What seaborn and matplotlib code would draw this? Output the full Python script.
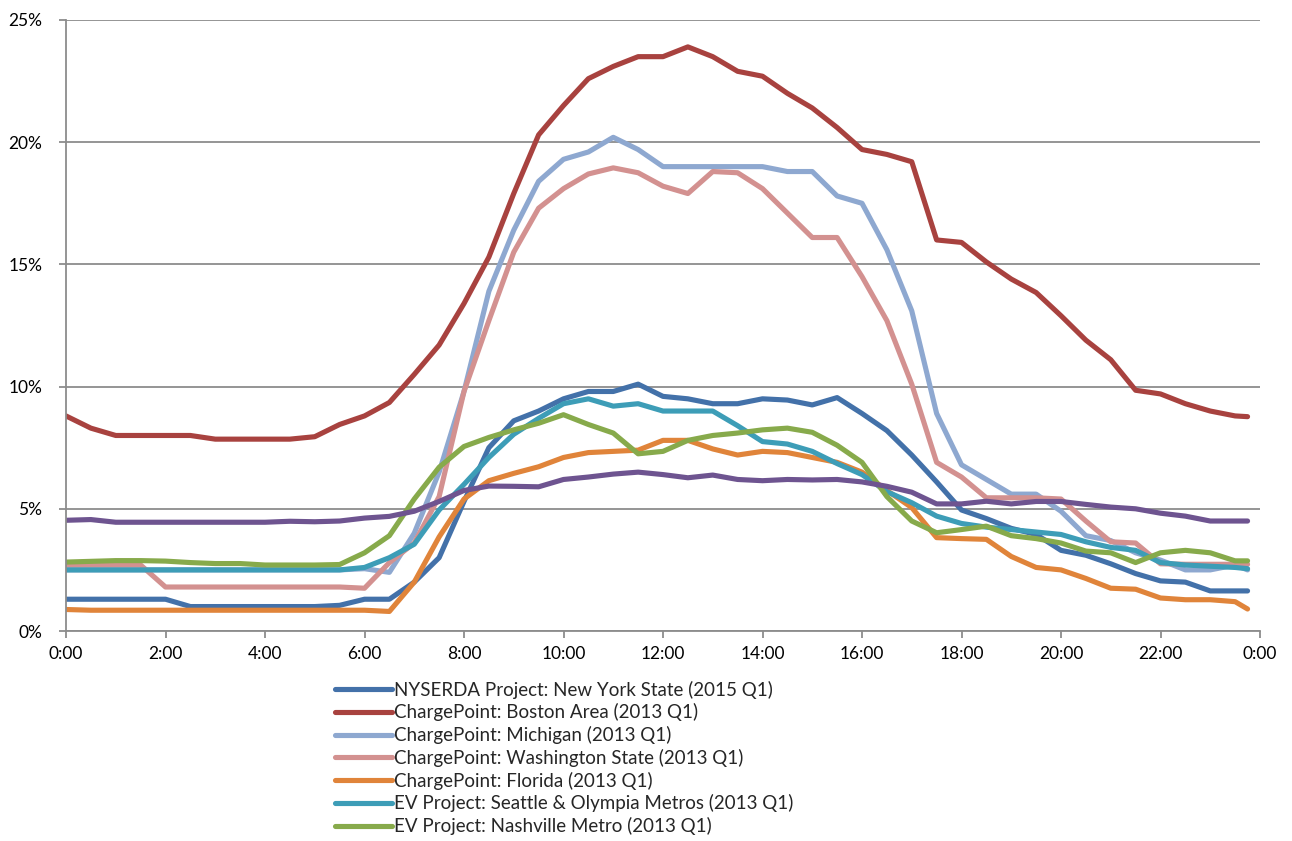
import matplotlib
matplotlib.use("Agg")
import matplotlib.pyplot as plt
import seaborn as sns
import pandas as pd
import numpy as np
from matplotlib.ticker import FuncFormatter, MultipleLocator

# ---- data (hours of day, percent of stations in use) ----
hours = [i * 0.5 for i in range(48)] + [23.75]

nyserda = [1.3, 1.3, 1.3, 1.3, 1.3, 1.0, 1.0, 1.0, 1.0, 1.0, 1.0, 1.05,
           1.3, 1.3, 2.0, 3.0, 5.3, 7.5, 8.6, 9.0, 9.5, 9.8, 9.8, 10.1,
           9.6, 9.5, 9.3, 9.3, 9.5, 9.45, 9.25, 9.55, 8.9, 8.2, 7.2, 6.1,
           4.95, 4.6, 4.2, 3.95, 3.3, 3.1, 2.75, 2.35, 2.05, 2.0, 1.64, 1.64, 1.64]
boston = [8.8, 8.3, 8.0, 8.0, 8.0, 8.0, 7.85, 7.85, 7.85, 7.85, 7.95, 8.45,
          8.8, 9.35, 10.5, 11.7, 13.4, 15.3, 17.9, 20.3, 21.5, 22.6, 23.1, 23.5,
          23.5, 23.9, 23.5, 22.9, 22.7, 22.0, 21.4, 20.6, 19.7, 19.5, 19.2, 16.0,
          15.9, 15.1, 14.4, 13.85, 12.9, 11.9, 11.1, 9.85, 9.7, 9.3, 9.0, 8.8, 8.77]
michigan = [2.5, 2.5, 2.5, 2.5, 2.5, 2.5, 2.5, 2.5, 2.5, 2.5, 2.5, 2.5,
            2.55, 2.4, 4.0, 6.5, 9.8, 13.9, 16.4, 18.4, 19.3, 19.6, 20.2, 19.7,
            19.0, 19.0, 19.0, 19.0, 19.0, 18.8, 18.8, 17.8, 17.5, 15.6, 13.1, 8.9,
            6.8, 6.2, 5.6, 5.6, 4.9, 3.9, 3.7, 3.2, 2.9, 2.5, 2.5, 2.7, 2.5]
washington = [2.7, 2.7, 2.7, 2.7, 1.8, 1.8, 1.8, 1.8, 1.8, 1.8, 1.8, 1.8,
              1.75, 2.8, 3.6, 5.5, 9.8, 12.7, 15.5, 17.3, 18.1, 18.7, 18.95, 18.75,
              18.2, 17.9, 18.8, 18.75, 18.1, 17.1, 16.1, 16.1, 14.5, 12.7, 10.1, 6.9,
              6.3, 5.45, 5.45, 5.45, 5.4, 4.5, 3.65, 3.6, 2.75, 2.73, 2.73, 2.73, 2.73]
florida = [0.88, 0.85, 0.85, 0.85, 0.85, 0.85, 0.85, 0.85, 0.85, 0.85, 0.85, 0.85,
           0.85, 0.8, 2.0, 3.85, 5.4, 6.15, 6.45, 6.72, 7.1, 7.3, 7.35, 7.4,
           7.8, 7.8, 7.45, 7.2, 7.35, 7.3, 7.1, 6.9, 6.5, 5.75, 5.05, 3.82,
           3.78, 3.75, 3.05, 2.6, 2.5, 2.15, 1.75, 1.71, 1.35, 1.28, 1.28, 1.2, 0.9]
seattle = [2.5, 2.5, 2.5, 2.5, 2.5, 2.5, 2.5, 2.5, 2.5, 2.5, 2.5, 2.5,
           2.6, 3.0, 3.55, 4.95, 6.0, 7.1, 8.05, 8.7, 9.3, 9.5, 9.2, 9.3,
           9.0, 9.0, 9.0, 8.4, 7.75, 7.65, 7.35, 6.85, 6.4, 5.7, 5.25, 4.7,
           4.4, 4.25, 4.15, 4.05, 3.95, 3.65, 3.42, 3.3, 2.8, 2.7, 2.65, 2.6, 2.55]
nashville = [2.82, 2.85, 2.88, 2.88, 2.86, 2.8, 2.76, 2.76, 2.7, 2.7, 2.7, 2.72,
             3.2, 3.9, 5.4, 6.7, 7.55, 7.92, 8.23, 8.5, 8.85, 8.45, 8.1, 7.25,
             7.35, 7.8, 8.0, 8.1, 8.23, 8.3, 8.13, 7.6, 6.9, 5.5, 4.5, 4.02,
             4.15, 4.29, 3.9, 3.78, 3.6, 3.27, 3.2, 2.8, 3.2, 3.3, 3.2, 2.87, 2.87]
purple_series = [4.53, 4.56, 4.45, 4.45, 4.45, 4.45, 4.45, 4.45, 4.45, 4.49, 4.47, 4.5,
                 4.62, 4.69, 4.9, 5.3, 5.75, 5.93, 5.92, 5.9, 6.2, 6.3, 6.42, 6.5,
                 6.4, 6.27, 6.38, 6.2, 6.15, 6.2, 6.18, 6.2, 6.1, 5.92, 5.68, 5.2,
                 5.2, 5.31, 5.2, 5.3, 5.3, 5.18, 5.07, 5.0, 4.82, 4.7, 4.5, 4.5, 4.5]

labels = [
    "NYSERDA Project: New York State (2015 Q1)",
    "ChargePoint: Boston Area (2013 Q1)",
    "ChargePoint: Michigan (2013 Q1)",
    "ChargePoint: Washington State (2013 Q1)",
    "ChargePoint: Florida (2013 Q1)",
    "EV Project: Seattle & Olympia Metros (2013 Q1)",
    "EV Project: Nashville Metro (2013 Q1)",
]
x_tick_labels = ["0:00", "2:00", "4:00", "6:00", "8:00", "10:00", "12:00",
                 "14:00", "16:00", "18:00", "20:00", "22:00", "0:00"]

series = [nyserda, boston, michigan, washington, florida, seattle, nashville]
colors = ["#4371A9", "#A8423F", "#8EA8D0", "#D39190", "#E0843A", "#3D9DB7", "#87AA4B"]
purple_color = "#6E5490"

# ---- plotting ----
sns.set_theme(style="white")
plt.rcParams["font.family"] = ["Lato", "DejaVu Sans"]

fig = plt.figure(figsize=(12.92, 8.41), dpi=100)
ax = fig.add_axes([66 / 1292, 1 - 631 / 841, (1260 - 66) / 1292, (631 - 20) / 841])

lw = 3.7
for vals, lab, col in zip(series, labels, colors):
    df = pd.DataFrame({"hour": hours, "pct": vals})
    sns.lineplot(data=df, x="hour", y="pct", ax=ax, color=col, linewidth=lw,
                 solid_capstyle="round", solid_joinstyle="round", label=lab, legend=False)
dfp = pd.DataFrame({"hour": hours, "pct": purple_series})
sns.lineplot(data=dfp, x="hour", y="pct", ax=ax, color=purple_color, linewidth=lw,
             solid_capstyle="round", solid_joinstyle="round", legend=False)

ax.set_xlim(0, 24)
ax.set_ylim(0, 25)
ax.set_xticks(np.arange(0, 25, 2))
ax.set_xticklabels(x_tick_labels)
ax.yaxis.set_major_locator(MultipleLocator(5))
ax.yaxis.set_major_formatter(FuncFormatter(lambda v, p: f"{int(v)}%"))
ax.set_xlabel("")
ax.set_ylabel("")

grid_col = "#8C8C8C"
ax.grid(axis="y", color=grid_col, linewidth=1.3)
ax.grid(axis="x", visible=False)
ax.set_axisbelow(True)
for s in ["top", "right"]:
    ax.spines[s].set_visible(False)
for s in ["left", "bottom"]:
    ax.spines[s].set_color(grid_col)
    ax.spines[s].set_linewidth(1.3)
ax.tick_params(axis="both", which="major", direction="out", length=5, width=1.3,
               color=grid_col, labelsize=12.5, labelcolor="black", pad=6)
ax.tick_params(axis="x", bottom=True)
ax.tick_params(axis="y", left=True, pad=12)

h, l = ax.get_legend_handles_labels()
fig.legend(h, l, loc="upper left", bbox_to_anchor=(327 / 1292, 1 - 673 / 841),
           frameon=False, fontsize=13.5, handlelength=3.05, handletextpad=0.15,
           labelspacing=0.25, borderaxespad=0)

fig.savefig("out.png", dpi=100)
